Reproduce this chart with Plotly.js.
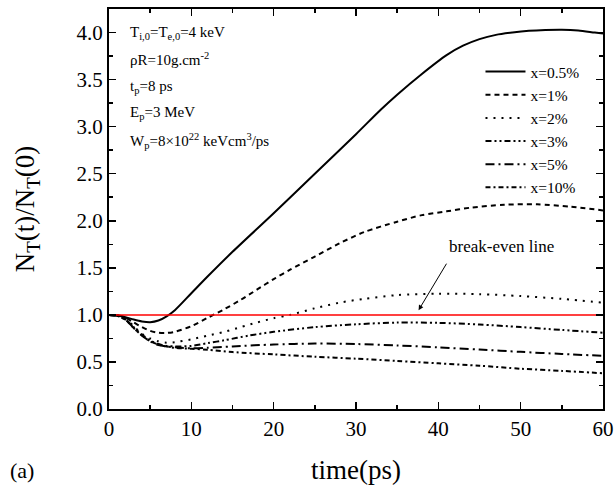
<!DOCTYPE html>
<html>
<head>
<meta charset="utf-8">
<script src="https://cdn.plot.ly/plotly-3.0.1.min.js"></script>
<style>html,body{margin:0;padding:0;background:#fff;}#chart{width:614px;height:486px;}</style>
</head>
<body>
<div id="chart"></div>
<script>
// ---- data ----
const t05 = [0,1,2,3,4,5,6,7,8,10,12,15,20,25,30,33,35,38,41,43,45,47,49,51,53,55,57,59,60];
const v05 = [1.0,0.995,0.975,0.95,0.93,0.922,0.94,0.985,1.05,1.23,1.41,1.67,2.08,2.5,2.92,3.18,3.34,3.56,3.76,3.86,3.93,3.975,4.0,4.018,4.027,4.03,4.022,4.0,3.99];

const t1 = [0,1,2,3,4,5,6,7,8,10,12,14,16,18,20,22,25,28,31,35,38,41,44,48,52,56,60];
const v1 = [1.0,0.995,0.97,0.92,0.87,0.83,0.81,0.808,0.82,0.88,0.97,1.06,1.16,1.27,1.38,1.48,1.62,1.76,1.88,1.99,2.06,2.10,2.14,2.17,2.175,2.15,2.11];

const t2 = [0,1,2,3,4,5,6,7,8,10,12,14,16,18,20,22,25,28,31,35,40,45,50,55,60];
const v2 = [1.0,0.995,0.96,0.88,0.80,0.75,0.72,0.705,0.71,0.74,0.78,0.82,0.87,0.92,0.965,1.0,1.07,1.13,1.17,1.21,1.225,1.22,1.20,1.17,1.13];

const t3 = [0,1,2,3,4,5,6,7,8,10,12,14,17,20,25,30,35,40,45,50,55,60];
const v3 = [1.0,0.99,0.95,0.87,0.79,0.73,0.69,0.67,0.665,0.67,0.70,0.73,0.78,0.82,0.87,0.90,0.918,0.915,0.898,0.87,0.84,0.81];

const t5 = [0,1,2,3,4,5,6,7,8,10,12,15,20,25,30,35,40,45,50,55,60];
const v5 = [1.0,0.99,0.95,0.86,0.78,0.72,0.68,0.665,0.655,0.645,0.65,0.665,0.685,0.695,0.69,0.675,0.655,0.632,0.607,0.585,0.565];

const t10 = [0,1,2,3,4,5,6,7,8,10,12,15,20,25,30,35,40,45,50,55,60];
const v10 = [1.0,0.99,0.95,0.86,0.78,0.72,0.685,0.665,0.65,0.64,0.63,0.605,0.58,0.555,0.535,0.51,0.485,0.46,0.428,0.405,0.38];

const seriesNames = ["x=0.5%","x=1%","x=2%","x=3%","x=5%","x=10%"];
const breakEvenX = [0,60];
const breakEvenY = [1,1];

// ---- styles ----
const FONT = 'Liberation Serif, Times New Roman, serif';
const dashes = ["solid","5px,4px","2px,6px","6px,3px,2px,3px,2px,3px","9px,4px,2px,4px","5px,3px,2px,3px"];
const xs = [t05,t1,t2,t3,t5,t10];
const ys = [v05,v1,v2,v3,v5,v10];

const traces = seriesNames.map((n,i)=>({
  x: xs[i], y: ys[i], name: n, type:'scatter', mode:'lines',
  line:{color:'#000', width:2, dash:dashes[i], shape:'spline', smoothing:0.8}
}));
traces.push({x:breakEvenX, y:breakEvenY, type:'scatter', mode:'lines',
  line:{color:'#ff0000', width:1.5}, showlegend:false, hoverinfo:'skip'});

// plot area pixel helpers (positions only)
const T=9, B=409.3;
const py = p => (B - p)/(B - T);

const annFont = {family:FONT, size:15, color:'#000'};
const annotations = [
  {text:'T<sub>i,0</sub>=T<sub>e,0</sub>=4 keV', y:py(33)},
  {text:'ρR=10g.cm<sup>-2</sup>', y:py(59)},
  {text:'t<sub>p</sub>=8 ps', y:py(87)},
  {text:'E<sub>p</sub>=3 MeV', y:py(113)},
  {text:'W<sub>p</sub>=8×10<sup>22</sup> keVcm<sup>3</sup>/ps', y:py(141)}
].map(a=>({text:a.text, xref:'paper', yref:'paper', x:(128-108.7)/494, y:a.y,
  xanchor:'left', yanchor:'middle', showarrow:false, font:annFont}));

annotations.push({text:'break-even line', xref:'x', yref:'y', x:47.7, y:1.73,
  showarrow:false, font:{family:FONT, size:17, color:'#000'}});
annotations.push({text:'', xref:'x', yref:'y', x:37.6, y:1.05, axref:'x', ayref:'y',
  ax:41.1, ay:1.56, showarrow:true, arrowhead:2, arrowsize:1, arrowwidth:1, arrowcolor:'#000'});
annotations.push({text:'(a)', xref:'paper', yref:'paper', x:(8-108.7)/494, y:py(471),
  xanchor:'left', yanchor:'middle', showarrow:false, font:{family:FONT, size:22, color:'#000'}});

const axisCommon = {
  showline:true, linecolor:'#000', linewidth:2, mirror:'ticks',
  ticks:'inside', ticklen:7, tickwidth:1.5, tickcolor:'#000',
  showgrid:false, zeroline:false,
  tickfont:{family:FONT, size:21, color:'#000'}
};

const layout = {
  width:614, height:486,
  margin:{l:109, r:11, t:9, b:77, pad:0},
  paper_bgcolor:'#fff', plot_bgcolor:'#fff',
  font:{family:FONT, color:'#000'},
  showlegend:true,
  legend:{x:0.752, y:0.885, xanchor:'left', yanchor:'top', bgcolor:'rgba(0,0,0,0)',
    font:{family:FONT, size:15.5, color:'#000'}, tracegroupgap:0, itemwidth:40},
  xaxis: Object.assign({}, axisCommon, {
    range:[0,60], dtick:10, tick0:0,
    minor:{dtick:5, ticks:'inside', ticklen:4, tickwidth:1.5, tickcolor:'#000'},
    title:{text:'time(ps)', font:{family:FONT, size:27, color:'#000'}, standoff:20}
  }),
  yaxis: Object.assign({}, axisCommon, {
    range:[0,4.25], dtick:0.5, tick0:0, tickformat:'.1f',
    minor:{dtick:0.25, ticks:'inside', ticklen:4, tickwidth:1.5, tickcolor:'#000'},
    title:{text:'N<sub>T</sub>(t)/N<sub>T</sub>(0)', font:{family:FONT, size:27, color:'#000'}, standoff:34}
  }),
  annotations: annotations
};

Plotly.newPlot('chart', traces, layout, {displayModeBar:false, staticPlot:true});
</script>
</body>
</html>
